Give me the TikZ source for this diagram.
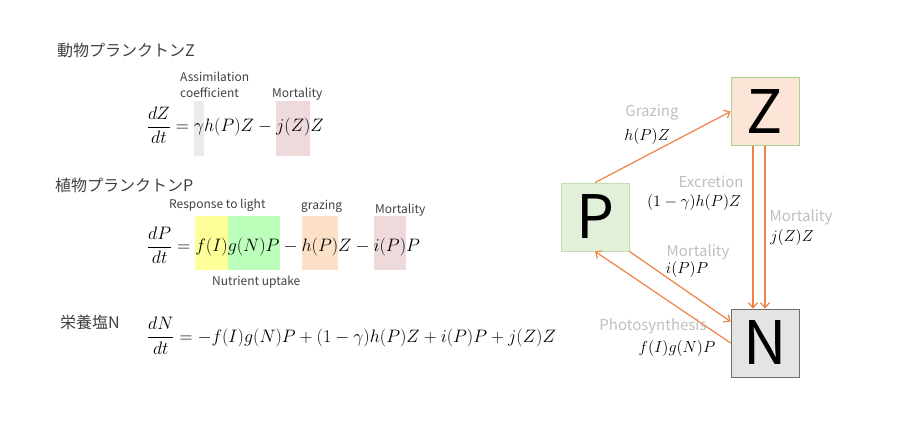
\documentclass[tikz,border=0pt]{standalone}
\usepackage{fix-cm}
\usepackage{amsmath}
\usepackage{fontspec}
\newfontfamily\jp{Noto Sans CJK JP}
\usetikzlibrary{arrows.meta}
\definecolor{txt}{RGB}{64,64,64}
\definecolor{lbl}{RGB}{191,191,191}
\definecolor{arr}{RGB}{240,130,70}
\definecolor{hlgrey}{RGB}{235,235,235}
\definecolor{hlpink}{RGB}{238,218,218}
\definecolor{hlyel}{RGB}{255,255,153}
\definecolor{hlgrn}{RGB}{187,255,187}
\definecolor{hlpeach}{RGB}{252,224,200}
\definecolor{zfill}{RGB}{252,228,214}
\definecolor{pfill}{RGB}{226,240,217}
\definecolor{nfill}{RGB}{228,228,228}
\definecolor{gborder}{RGB}{169,209,142}
\definecolor{nborder}{RGB}{110,110,110}
\newcommand\eqfont{\fontsize{18}{22}\selectfont}
\newcommand\lblfont{\jp\fontsize{12}{15}\selectfont}
\begin{document}
\begin{tikzpicture}[x=1pt,y=-1pt,
  head/.style={font=\jp\fontsize{16}{18}\selectfont, text=txt, inner sep=0pt, anchor=west},
  small/.style={font=\lblfont, text=txt, inner sep=0pt},
  eqn/.style={inner sep=0pt, outer sep=0pt, anchor=base west, font=\eqfont},
  hlA/.style={eqn, fill=#1, text height=30.5pt, text depth=24.5pt},
  hlB/.style={eqn, fill=#1, text height=35.5pt, text depth=18.5pt},
  glbl/.style={font=\jp\fontsize{15}{17}\selectfont, text=lbl, inner sep=0pt},
  mlbl/.style={font=\fontsize{16}{18}\selectfont, inner sep=0pt},
  box/.style={draw, line width=0.8pt, minimum width=68pt, minimum height=68pt, inner sep=0pt, font=\jp\fontsize{60}{60}\selectfont},
  flow/.style={draw=arr, line width=1.2pt, -{Straight Barb[length=5pt,width=9pt]}}
]
\useasboundingbox (0,0) rectangle (910,438);

% ---------- headings ----------
\node[head] (hz) at (57,50) {動物プランクトンZ};
\node[head] (hp) at (55,185) {植物プランクトンP};
\node[head] (hn) at (60,322) {栄養塩N};

% ---------- equation Z ----------
\node[eqn] (z1) at (147,131.5) {$\dfrac{dZ}{dt}={}$};
\node[hlA=hlgrey] (z2) at (z1.base east) {$\gamma$};
\node[eqn] (z3) at (z2.base east) {$h(P)Z-{}$};
\node[hlA=hlpink] (z4) at (z3.base east) {$j(Z)$};
\node[eqn] (z5) at (z4.base east) {$Z$};
\node[small, anchor=base west, align=left] (la) at (180,82) {Assimilation};
\node[small, anchor=base west] (lc) at (180,98) {coefficient};
\node[small, anchor=base west] (lm1) at (272,98) {Mortality};

% ---------- equation P ----------
\node[eqn] (p1) at (147,251.5) {$\dfrac{dP}{dt}={}$};
\node[hlB=hlyel] (p2) at (p1.base east) {$f(I)$};
\node[hlB=hlgrn] (p3) at (p2.base east) {$g(N)P$};
\node[eqn] (p4) at (p3.base east) {${}-{}$};
\node[hlB=hlpeach] (p5) at (p4.base east) {$h(P)$};
\node[eqn] (p6) at (p5.base east) {$Z-{}$};
\node[hlB=hlpink] (p7) at (p6.base east) {$i(P)$};
\node[eqn] (p8) at (p7.base east) {$P$};
\node[small, anchor=base west] (lr) at (169,209) {Response to light};
\node[small, anchor=base west] (lg) at (301,210) {grazing};
\node[small, anchor=base west] (lm2) at (375,214) {Mortality};
\node[small, anchor=base west] (lu) at (212,286) {Nutrient uptake};

% ---------- equation N ----------
\node[eqn] (n1) at (147,342) {$\dfrac{dN}{dt}=-f(I)g(N)P+(1-\gamma)h(P)Z+i(P)P+j(Z)Z$};

% ---------- box model ----------
\node[box, fill=zfill, draw=gborder] (Z) at (765,111.5) {Z};
\node[box, fill=pfill, draw=gborder!70] (P) at (595,217) {P};
\node[box, fill=nfill, draw=nborder] (N) at (765,343) {N};

\draw[flow] (P.north) -- (Z.west);
\draw[flow] ([xshift=-12pt]Z.south) -- ([xshift=-12pt]N.north);
\draw[flow] (Z.south) -- (N.north);
\draw[flow] (P.south east) -- ([yshift=-13pt]N.north west);
\draw[flow] (N.west) -- (P.south);

\node[glbl] (tg) at (652,113) {Grazing};
\node[mlbl] (mg) at (647,137) {$h(P)Z$};
\node[glbl] (te) at (711,182) {Excretion};
\node[mlbl] (me) at (694,203) {$(1-\gamma)h(P)Z$};
\node[glbl] (tm) at (801,217) {Mortality};
\node[mlbl] (mm) at (792,238) {$j(Z)Z$};
\node[glbl] (tm2) at (698,252) {Mortality};
\node[mlbl] (mi) at (687,269) {$i(P)P$};
\node[glbl] (tp) at (653,326) {Photosynthesis};
\node[mlbl] (mf) at (677,348) {$f(I)g(N)P$};
\end{tikzpicture}
\end{document}
